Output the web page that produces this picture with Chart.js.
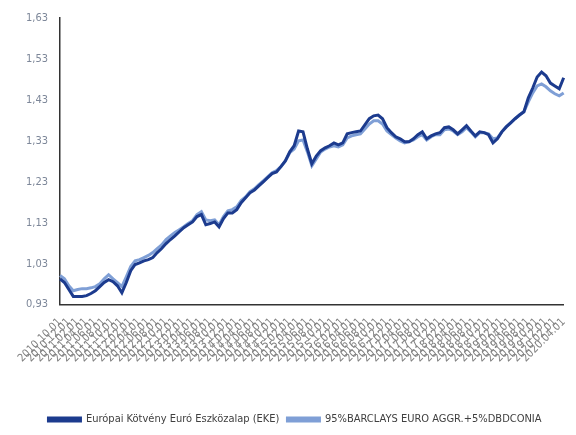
<!DOCTYPE html>
<html>
<head>
<meta charset="utf-8">
<script src="https://cdn.jsdelivr.net/npm/chart.js@4/dist/chart.umd.min.js"></script>
<style>
    html, body { margin: 0; padding: 0; background: #fff; }
    #wrap { width: 576px; height: 435px; }
</style>
</head>
<body>
<div id="wrap"><canvas id="chart" width="576" height="435"></canvas></div>
<script>
// havi dátumok 2010.10.01 - 2020.04.01
const dates = [
    '2010.10.01','2010.11.01','2010.12.01',
    '2011.01.01','2011.02.01','2011.03.01','2011.04.01','2011.05.01','2011.06.01','2011.07.01','2011.08.01','2011.09.01','2011.10.01','2011.11.01','2011.12.01',
    '2012.01.01','2012.02.01','2012.03.01','2012.04.01','2012.05.01','2012.06.01','2012.07.01','2012.08.01','2012.09.01','2012.10.01','2012.11.01','2012.12.01',
    '2013.01.01','2013.02.01','2013.03.01','2013.04.01','2013.05.01','2013.06.01','2013.07.01','2013.08.01','2013.09.01','2013.10.01','2013.11.01','2013.12.01',
    '2014.01.01','2014.02.01','2014.03.01','2014.04.01','2014.05.01','2014.06.01','2014.07.01','2014.08.01','2014.09.01','2014.10.01','2014.11.01','2014.12.01',
    '2015.01.01','2015.02.01','2015.03.01','2015.04.01','2015.05.01','2015.06.01','2015.07.01','2015.08.01','2015.09.01','2015.10.01','2015.11.01','2015.12.01',
    '2016.01.01','2016.02.01','2016.03.01','2016.04.01','2016.05.01','2016.06.01','2016.07.01','2016.08.01','2016.09.01','2016.10.01','2016.11.01','2016.12.01',
    '2017.01.01','2017.02.01','2017.03.01','2017.04.01','2017.05.01','2017.06.01','2017.07.01','2017.08.01','2017.09.01','2017.10.01','2017.11.01','2017.12.01',
    '2018.01.01','2018.02.01','2018.03.01','2018.04.01','2018.05.01','2018.06.01','2018.07.01','2018.08.01','2018.09.01','2018.10.01','2018.11.01','2018.12.01',
    '2019.01.01','2019.02.01','2019.03.01','2019.04.01','2019.05.01','2019.06.01','2019.07.01','2019.08.01','2019.09.01','2019.10.01','2019.11.01','2019.12.01',
    '2020.01.01','2020.02.01','2020.03.01','2020.04.01'
];

// Európai Kötvény Euró Eszközalap (EKE)
const fundValues = [
    0.993,0.984,0.967,0.950,0.950,0.950,0.952,0.957,0.964,0.974,0.984,0.991,0.986,0.976,0.959,
    0.984,1.013,1.028,1.032,1.037,1.040,1.045,1.057,1.067,1.079,1.089,1.098,1.108,1.118,1.125,
    1.132,1.145,1.150,1.125,1.128,1.132,1.120,1.140,1.154,1.154,1.162,1.179,1.191,1.203,1.210,
    1.220,1.230,1.240,1.250,1.254,1.267,1.281,1.303,1.318,1.354,1.352,1.310,1.274,1.293,1.306,
    1.313,1.318,1.325,1.320,1.325,1.347,1.350,1.352,1.354,1.369,1.384,1.391,1.393,1.384,1.362,
    1.350,1.340,1.335,1.328,1.328,1.335,1.345,1.352,1.335,1.342,1.347,1.350,1.362,1.364,1.357,
    1.347,1.357,1.367,1.354,1.342,1.352,1.350,1.345,1.325,1.335,1.352,1.364,1.374,1.384,1.393,
    1.401,1.435,1.459,1.486,1.498,1.489,1.471,1.464,1.457,1.484
];

// 95%BARCLAYS EURO AGGR.+5%DBDCONIA
const benchValues = [
    1.001,0.993,0.976,0.964,0.967,0.969,0.969,0.971,0.974,0.981,0.993,1.003,0.993,0.984,0.974,
    0.998,1.023,1.037,1.040,1.045,1.050,1.057,1.067,1.076,1.089,1.098,1.106,1.113,1.120,1.128,
    1.135,1.150,1.157,1.137,1.135,1.137,1.125,1.145,1.159,1.162,1.169,1.184,1.193,1.206,1.213,
    1.223,1.232,1.242,1.252,1.257,1.267,1.281,1.301,1.310,1.330,1.332,1.303,1.269,1.286,1.303,
    1.310,1.315,1.318,1.315,1.320,1.337,1.342,1.345,1.347,1.359,1.371,1.379,1.379,1.371,1.354,
    1.345,1.337,1.330,1.325,1.328,1.332,1.340,1.345,1.332,1.340,1.345,1.345,1.357,1.359,1.354,
    1.345,1.352,1.362,1.352,1.340,1.350,1.350,1.347,1.335,1.337,1.352,1.364,1.374,1.384,1.393,
    1.401,1.425,1.447,1.464,1.469,1.462,1.452,1.445,1.440,1.447
];

const yTicks = [0.93, 1.03, 1.13, 1.23, 1.33, 1.43, 1.53, 1.63];

const fundColor = '#1c3b8e';
const benchColor = '#7f9fd6';
const narrow = "'Liberation Sans Narrow', 'DejaVu Sans Condensed', sans-serif";

const ctx = document.getElementById('chart');
new Chart(ctx, {
    type: 'line',
    data: {
        labels: dates,
        datasets: [{
            label: 'Európai Kötvény Euró Eszközalap (EKE)',
            data: fundValues,
            borderColor: fundColor,
            backgroundColor: fundColor,
            borderWidth: 3,
            pointRadius: 0,
            tension: 0
        }, {
            label: '95%BARCLAYS EURO AGGR.+5%DBDCONIA',
            data: benchValues,
            borderColor: benchColor,
            backgroundColor: benchColor,
            borderWidth: 3,
            pointRadius: 0,
            tension: 0
        }]
    },
    options: {
        responsive: false,
        animation: false,
        layout: { padding: { left: 22, right: 8, top: 18, bottom: 0 } },
        plugins: {
            legend: {
                position: 'bottom',
                labels: {
                    boxWidth: 32,
                    boxHeight: 3,
                    color: '#404040',
                    font: { family: narrow, size: 11 },
                    padding: 8
                }
            },
            tooltip: { enabled: false }
        },
        scales: {
            x: {
                grid: { display: false },
                border: { display: true, color: '#333', width: 1.5 },
                ticks: {
                    autoSkip: false,
                    minRotation: 45,
                    maxRotation: 45,
                    color: '#808080',
                    font: { family: narrow, size: 11 },
                    callback: function(value, index) {
                        return index % 2 === 0 ? dates[index] : '';
                    }
                },
                afterFit: function(scale) {
                    scale.height += 38;
                }
            },
            y: {
                min: yTicks[0],
                max: yTicks[yTicks.length - 1],
                grid: { display: false },
                border: { display: true, color: '#333', width: 1.5 },
                afterBuildTicks: function(scale) {
                    scale.ticks = yTicks.map(v => ({ value: v }));
                },
                ticks: {
                    color: '#7d8799',
                    padding: 4,
                    font: { family: narrow, size: 11 },
                    callback: function(value) {
                        return value.toFixed(2).replace('.', ',');
                    }
                }
            }
        }
    }
});
</script>
</body>
</html>
